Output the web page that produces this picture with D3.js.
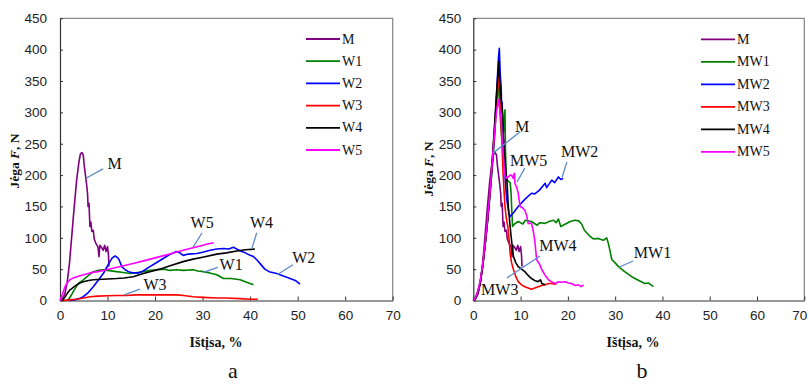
<!DOCTYPE html>
<html>
<head>
<meta charset="utf-8">
<script src="https://cdn.jsdelivr.net/npm/d3@7"></script>
<style>
  html, body { margin: 0; padding: 0; background: #fff; }
  svg { display: block; }
</style>
</head>
<body>
<svg id="chart" width="809" height="384"></svg>
<script>
// ---------- DATA ----------
const xTicks = [0, 10, 20, 30, 40, 50, 60, 70];
const yTicks = [0, 50, 100, 150, 200, 250, 300, 350, 400, 450];

const seriesNamesA = ["M", "W1", "W2", "W3", "W4", "W5"];
const seriesNamesB = ["M", "MW1", "MW2", "MW3", "MW4", "MW5"];
const seriesColors = ["#800080", "#008000", "#0000ff", "#ff0000", "#000000", "#ff00ff"];

// strain %, force N
const M = [[0,0],[0.5,3],[1,10],[1.5,28],[2,60],[2.5,105],[3,150],[3.5,192],[4,222],[4.3,234],[4.6,236],[4.9,232],[5.1,215],[5.4,197],[5.6,185],[5.8,170],[5.9,150],[6.1,155],[6.3,118],[6.5,125],[6.7,110],[7.0,112],[7.2,98],[7.5,92],[7.8,88],[8.0,85],[8.2,70],[8.4,88],[8.8,84],[9.1,80],[9.4,88],[9.7,78],[10.0,86],[10.2,72],[10.3,54]];

const W1 = [[1.5,0],[2,4],[2.5,10],[3,17],[3.5,23],[4,28],[4.9,33],[6,40],[7,46],[8,48],[9.1,49],[10,48],[11.9,46],[13,45],[14.7,43],[16,44],[17.5,46],[19,48],[20.3,49],[22,50],[23,48],[24.5,49],[26,48],[28,49],[29,47],[30.2,46],[31.5,44],[33,41],[34.4,35],[36,35],[37.9,33],[39,30],[40.7,25]];

const W2 = [[2,0],[3,1],[4,3],[4.9,6],[6,13],[7,22],[8,32],[9.1,43],[10,55],[10.5,62],[11,68],[11.6,71],[12.3,67],[12.7,60],[13,54],[13.7,49],[14.4,46],[15.5,44],[16.5,44],[17.5,47],[18.9,54],[20,59],[21.7,67],[23,73],[24.5,78],[25.2,76],[25.9,72],[27,74],[28.8,75],[30,77],[31.6,80],[33,82],[34.4,83],[35.5,82],[36.5,85],[37.2,82],[38.2,78],[39,76],[40,72],[40.7,70],[41.4,65],[42.2,58],[43.1,50],[44,46],[45.6,43],[47,39],[48.4,35],[49.5,32],[50.5,26]];

const W3 = [[0.5,0],[2,1],[3.5,2],[5,4],[6.3,6],[8,7],[10,7.5],[11.9,8],[14,8],[16,9],[18.9,9],[21,9],[24.5,9],[26,8],[28,6],[30,5],[33,4],[35,4],[37.9,3],[40,2],[41.6,2]];

const W4 = [[0.5,0],[1,5],[1.5,11],[2.1,17],[2.8,21],[3.5,25],[4.2,28],[4.9,30],[6,32],[7,33],[9,34],[11.9,35],[13.5,36],[15.4,38],[17,42],[18.9,46],[21,50],[23,55],[25.9,62],[28,66],[30,69],[33,74],[35,76],[37.2,79],[39,81],[41,82]];

const W5 = [[0,0],[0.5,10],[1.05,22],[1.5,28],[2.1,33],[2.8,36],[3.5,38],[5,41],[6.3,44],[8,46],[9.8,49],[12,53],[15.4,59],[18,64],[21,70],[23.5,75],[25.9,80],[28,84],[29.5,87],[31,90],[32.3,92]];

const MW1 = [[0,0],[0.5,5],[1,15],[1.5,32],[2,58],[2.5,90],[3,125],[3.5,165],[4,210],[4.5,260],[4.8,300],[5.1,330],[5.3,345],[5.5,320],[5.8,280],[6.1,250],[6.4,270],[6.7,304],[6.8,240],[7.0,195],[7.4,190],[7.8,188],[8.0,170],[8.1,150],[8.3,118],[8.7,122],[9.5,126],[10.5,122],[11,128],[12.3,126],[13.5,120],[14,124],[15.2,123],[16,126],[17,128],[17.5,124],[18,130],[18.5,118],[19.5,122],[20.5,126],[21.5,128],[22.3,127],[22.9,122],[23.5,112],[24.7,102],[25.5,98],[26.4,99],[27.5,96],[28.2,100],[28.6,90],[29.0,76],[29.3,65],[30,60],[30.7,54],[32,46],[33.5,38],[35,32],[36.3,27],[37,28],[38.1,22]];

const MW2 = [[0,0],[0.5,4],[1,14],[1.5,30],[2,55],[2.5,88],[3,125],[3.5,168],[4,215],[4.5,270],[5,340],[5.3,385],[5.5,402],[5.7,360],[5.9,340],[6.0,300],[6.1,316],[6.3,260],[6.6,219],[6.8,185],[7.1,160],[7.5,140],[7.8,134],[8.5,140],[9.5,150],[10.5,158],[11,162],[12.3,171],[13,170],[14,176],[15.2,187],[15.5,180],[16.6,192],[17.2,188],[18,197],[18.5,193],[19,195]];

const MW3 = [[0,0],[0.5,4],[1,14],[1.5,30],[2,56],[2.5,90],[3,128],[3.5,170],[4,220],[4.5,275],[5,330],[5.3,355],[5.4,362],[5.6,320],[6,261],[6.3,203],[6.5,175],[6.7,150],[7.0,130],[7.3,118],[7.6,95],[7.8,75],[8.1,60],[8.5,49],[9,38],[9.5,30],[10.2,25],[10.9,22],[11.6,20],[12.3,18],[13,20],[13.7,22],[14.5,24],[15.2,25],[16,27],[16.6,27],[17.2,26],[17.6,27]];

const MW4 = [[0,0],[0.5,4],[1,14],[1.5,30],[2,56],[2.5,90],[3,128],[3.5,172],[4,222],[4.5,280],[5,340],[5.3,372],[5.4,381],[5.6,350],[5.9,320],[6.2,298],[6.4,260],[6.6,235],[6.9,205],[7.1,192],[7.3,165],[7.4,150],[7.7,125],[8.0,102],[8.3,82],[8.5,70],[9,60],[9.5,54],[10.2,50],[10.9,46],[11.6,40],[12.3,35],[13,32],[13.7,30],[14.2,33],[14.5,27],[15.2,25]];

const MW5 = [[0,0],[0.5,5],[1,16],[1.5,33],[2,58],[2.5,92],[3,130],[3.5,172],[4,220],[4.5,268],[4.9,300],[5.3,320],[5.6,305],[5.9,288],[6.1,260],[6.3,235],[6.5,215],[6.7,200],[7.0,195],[7.4,197],[7.8,200],[8.1,200],[8.4,195],[8.7,203],[8.8,187],[9.2,180],[9.5,171],[9.7,160],[9.9,150],[10.4,148],[10.9,144],[11.3,135],[11.6,123],[12.3,123],[12.7,110],[13,96],[13.2,80],[13.4,65],[14,58],[14.5,49],[15.2,40],[15.9,33],[16.5,30],[17.3,27],[18,30],[18.5,29],[19.4,30],[20.1,28],[20.8,27],[21.5,24],[22.2,25],[22.8,22],[23.3,25]];

// annotation labels: [text, x, y] and leader lines [x1,y1,x2,y2] in data units
const labelsA = [["M",11.5,219],["W5",29.9,124],["W4",42.4,125],["W2",51.3,68],["W1",36.0,57],["W3",20.0,25]];
const leadersA = [[5.47,195,9.05,210],[28.0,85,29.9,108],[40.4,84,41.4,108],[45.7,41,49.0,57],[30.1,45,33.2,53],[13.5,9,16.8,18]];
const labelsB = [["M",10.3,278],["MW5",11.7,224],["MW2",22.5,237],["MW4",17.9,87],["MW3",5.6,18],["MW1",37.9,76]];
const leadersB = [[4.17,235,9.88,269],[9.24,189,10.9,211],[18.8,197,19.8,221],[7.1,36,14.1,71],[30.8,53,33.8,63]];

const xTitle = "Ištįsa, %";
const panelLetters = ["a", "b"];

// ---------- DRAW ----------
const svg = d3.select("#chart");
const sans = "'Liberation Sans', Arial, sans-serif";
const serif = "'Liberation Serif', 'Times New Roman', serif";
const leaderColor = "#5b8cc8";

function drawPanel(cfg) {
  const x = d3.scaleLinear().domain([0, 70]).range([cfg.x0, cfg.x1]);
  const y = d3.scaleLinear().domain([0, 450]).range([cfg.yBot, cfg.yTop]);
  const g = svg.append("g");

  // frame (top/right grey)
  g.append("path")
    .attr("d", `M${cfg.x0},${cfg.yTop}H${cfg.x1}V${cfg.yBot}`)
    .attr("fill", "none").attr("stroke", "#8c8c8c").attr("stroke-width", 1.3);

  // axes
  const xAxis = d3.axisBottom(x).tickValues(xTicks).tickSize(-4).tickPadding(13).tickSizeOuter(0);
  const yAxis = d3.axisLeft(y).tickValues(yTicks).tickSize(-3).tickPadding(cfg.yPad).tickSizeOuter(0);
  const gx = g.append("g").attr("transform", `translate(0,${cfg.yBot})`).call(xAxis);
  const gy = g.append("g").attr("transform", `translate(${cfg.x0},0)`).call(yAxis);
  [gx, gy].forEach(a => {
    a.select(".domain").attr("stroke", "#333").attr("stroke-width", 1.2);
    a.selectAll(".tick line").attr("stroke", "#333").attr("stroke-width", 1);
    a.selectAll("text").attr("font-family", sans).attr("font-size", 13.5).attr("fill", "#222");
  });
  gx.selectAll(".tick text").attr("dy", "0.71em").attr("y", 10)
    .attr("dx", d => (d === 70 ? cfg.lastDx : 0));

  // series
  const line = d3.line().x(d => x(d[0])).y(d => y(d[1]));
  cfg.series.forEach((s, i) => {
    g.append("path").datum(s).attr("d", line)
      .attr("fill", "none").attr("stroke", seriesColors[i]).attr("stroke-width", 1.6)
      .attr("stroke-linejoin", "round");
  });

  // leader lines and labels
  cfg.leaders.forEach(l => {
    g.append("line").attr("x1", x(l[0])).attr("y1", y(l[1])).attr("x2", x(l[2])).attr("y2", y(l[3]))
      .attr("stroke", leaderColor).attr("stroke-width", 1.3);
  });
  cfg.labels.forEach(l => {
    g.append("text").attr("x", x(l[1])).attr("y", y(l[2]))
      .attr("text-anchor", "middle").attr("dominant-baseline", "central")
      .attr("font-family", serif).attr("font-size", 16).attr("fill", "#111").text(l[0]);
  });

  // legend
  cfg.names.forEach((n, i) => {
    const ly = cfg.legY + i * cfg.legStep;
    g.append("line").attr("x1", cfg.legX).attr("x2", cfg.legX + 34).attr("y1", ly).attr("y2", ly)
      .attr("stroke", seriesColors[i]).attr("stroke-width", 1.8);
    g.append("text").attr("x", cfg.legX + 36).attr("y", ly).attr("dominant-baseline", "central")
      .attr("font-family", serif).attr("font-size", cfg.legFont).attr("fill", "#111").text(n);
  });

  // axis titles
  g.append("text").attr("x", cfg.xtX).attr("y", 342).attr("text-anchor", "middle")
    .attr("dominant-baseline", "central")
    .attr("font-family", serif).attr("font-weight", "bold").attr("font-size", 14).attr("fill", "#111")
    .text(xTitle);
  const yt = g.append("text")
    .attr("transform", `translate(${cfg.ytX},${cfg.ytY}) rotate(-90)`)
    .attr("text-anchor", "middle").attr("dominant-baseline", "central")
    .attr("font-family", serif).attr("font-weight", "bold").attr("font-size", 13.5).attr("fill", "#111");
  yt.append("tspan").text("Jėga ");
  yt.append("tspan").attr("font-style", "italic").text("F");
  yt.append("tspan").text(", N");

  // panel letter
  g.append("text").attr("x", cfg.letterX).attr("y", 378).attr("text-anchor", "middle")
    .attr("font-family", serif).attr("font-size", 22).attr("fill", "#111").text(cfg.letter);
}

drawPanel({
  x0: 60, x1: 392.7, yTop: 18.3, yBot: 300.5, yPad: 13, lastDx: 0,
  series: [M, W1, W2, W3, W4, W5], names: seriesNamesA,
  labels: labelsA, leaders: leadersA,
  legX: 306, legY: 39, legStep: 22.2, legFont: 14,
  xtX: 216, ytX: 14, ytY: 161, letterX: 233, letter: panelLetters[0]
});
drawPanel({
  x0: 473.3, x1: 804.3, yTop: 18.3, yBot: 300.5, yPad: 12, lastDx: -5,
  series: [M, MW1, MW2, MW3, MW4, MW5], names: seriesNamesB,
  labels: labelsB, leaders: leadersB,
  legX: 701, legY: 39.3, legStep: 22.5, legFont: 14,
  xtX: 633, ytX: 428, ytY: 169, letterX: 642, letter: panelLetters[1]
});
</script>
</body>
</html>
